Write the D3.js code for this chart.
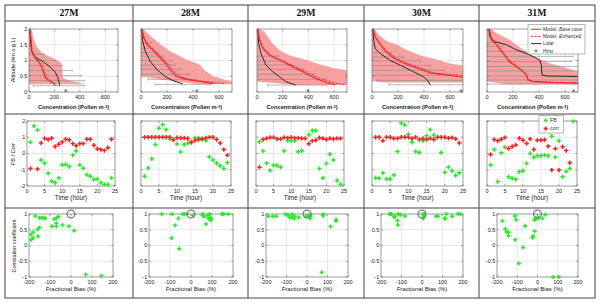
<!DOCTYPE html>
<html><head><meta charset="utf-8">
<script src="https://cdn.jsdelivr.net/npm/d3@7"></script>
<style>body{margin:0;background:#fff}svg{display:block}</style>
</head><body><svg id="c" width="600" height="304"></svg>
<script>
// ---------------- DATA ----------------
const days = ["27M","28M","29M","30M","31M"];
const hours = [1,2,3,4,5,6,7,8,9,10,11,12,13,14,15,16,17,18,19,20,21,22,23,24];

// Fractional bias (FB) per hour, per day
const fb = [
 [0.7,1.7,1.45,-0.4,-0.6,-1.22,-1.7,-1.8,-1.5,-0.7,-0.67,-0.8,-0.1,0.15,-0.7,-0.9,-1.3,-1.4,-1.6,-1.57,-1.8,-1.9,-1.9,-1.5],
 [-1.4,-0.89,-0.32,0.55,1.56,1.78,1.47,0.89,0.85,0.59,0.1,0.55,0.63,0.72,0.95,0.95,0.92,0.8,-0.2,-0.4,-0.6,-0.76,-0.92,-0.56],
 [0.72,0.15,-0.6,-1.05,-0.72,-0.74,-0.85,0.17,0.79,0.79,0.79,0.11,0.17,null,1.15,1.42,1.42,-0.93,-1.5,-0.62,-0.05,-0.4,-1.66,-1.89],
 [-1.49,-1.53,-1.2,-1.57,-1.57,-1.33,0.12,1.87,1.76,1.18,0.69,0.12,0.06,0.78,1.1,1.47,1.14,null,0.06,-1.16,-0.84,-1.06,-1.35,-1.18],
 [-0.71,0.24,-1.73,0.04,0.39,-1.43,-1.53,-1.59,-1.12,-1.06,-0.61,0.0,-0.24,-0.14,-0.14,-0.1,-0.14,1.06,-0.22,0.78,-1.43,-1.1,-0.92,1.98]
];
// Correlation per hour, per day
const corr = [
 [-0.92,null,-0.96,0.65,0.92,0.86,0.94,0.43,0.57,0.71,0.88,0.84,0.61,0.47,0.61,0.61,0.88,0.88,0.51,0.29,0.24,0.18,0.35,0.88],
 [1,1,1,1,1,1,1,1,0.85,0.97,0.95,0.95,0.92,0.68,0.8,0.86,0.88,0.95,1.0,1.0,0.86,0.64,0.24,-0.1],
 [-0.85,0.86,0.93,0.99,0.99,0.89,0.89,0.99,0.95,0.99,0.95,0.95,0.93,0.93,0.6,0.78,0.82,0.97,0.93,0.86,0.93,0.89,0.93,0.93],
 [1.0,1.0,0.79,1.0,1.0,0.93,0.93,1.0,1.0,1.0,0.93,1.0,0.86,0.93,0.86,0.93,0.86,1.0,1.0,1.0,0.94,0.98,0.9,0.65],
 [-0.06,0.86,0.78,0.88,0.98,0.31,0.43,0.53,0.94,0.82,0.62,0.9,0.25,0.82,0.82,0.85,0.45,-1.02,0.3,-1.02,0.42,0.18,-0.57,null]
];

// Model spread band (altitude km, lower and upper concentration)
const bandAlt = [
 [2.0,1.98,1.71,1.44,1.24,1.06,0.95,0.79,0.46,0.38,0.3,0.25],
 [2.0,1.95,1.7,1.3,1.04,0.88,0.66,0.49,0.4,0.3,0.25],
 [2.0,1.92,1.55,1.33,1.17,1.02,0.86,0.75,0.7,0.4,0.33,0.22],
 [2.0,1.82,1.61,1.5,1.38,1.16,1.03,0.9,0.85,0.34,0.3],
 [2.0,1.87,1.66,1.34,1.13,0.91,0.76,0.65,0.33,0.25]
];
const bandLo = [
 [0,0,0,0,0,0,0,0,0,0,0,0],
 [0,0,0,0,0,0,0,0,150,330,467],
 [0,0,0,0,0,0,0,0,0,0,0,300],
 [0,0,0,0,0,0,0,0,0,0,100],
 [0,0,0,0,0,0,0,0,0,150]
];
const bandHi = [
 [10,21,35,61,101,194,247,261,266,300,394,447],
 [15,30,95,220,347,447,497,560,640,760,800],
 [20,56,120,172,249,377,505,608,690,800,800,800],
 [20,51,115,192,244,372,500,603,700,800,800],
 [30,72,174,277,354,482,610,695,800,800]
];
// Profiles: [altitude km, concentration]
const baseCase = [
 [[2.0,5],[1.65,16],[1.33,21],[1.17,35],[0.95,75],[0.79,100],[0.63,115],[0.46,128],[0.36,155],[0.27,195],[0.2,207]],
 [[2.0,8],[1.73,20],[1.52,45],[1.31,95],[1.09,146],[0.88,196],[0.72,221],[0.5,271],[0.4,347],[0.34,447],[0.29,522],[0.26,560]],
 [[2.0,5],[1.66,18],[1.4,44],[1.17,95],[1.02,172],[0.86,249],[0.65,351],[0.43,454],[0.28,556],[0.22,608]],
 [[2.0,8],[1.73,26],[1.5,64],[1.29,103],[1.08,167],[0.92,244],[0.76,346],[0.6,449],[0.55,550],[0.47,700]],
 [[2.0,15],[1.66,33],[1.5,72],[1.23,123],[0.96,174],[0.81,226],[0.65,277],[0.54,303],[0.38,315],[0.33,354],[0.3,500],[0.28,700]]
];
const enhanced = [
 [[2.0,6],[1.65,18],[1.33,24],[1.17,40],[0.95,82],[0.79,108],[0.63,122],[0.46,136],[0.36,165],[0.27,205],[0.2,222]],
 [[2.0,10],[1.73,25],[1.52,52],[1.31,105],[1.09,160],[0.88,212],[0.72,240],[0.5,295],[0.4,380],[0.34,480],[0.29,600],[0.27,640]],
 [[2.0,6],[1.66,22],[1.4,50],[1.17,105],[1.02,185],[0.86,268],[0.65,380],[0.43,490],[0.28,610],[0.22,690]],
 [[2.0,10],[1.73,30],[1.5,72],[1.29,115],[1.08,180],[0.92,260],[0.76,370],[0.6,480],[0.57,580],[0.52,700]],
 [[2.0,18],[1.66,38],[1.5,80],[1.23,130],[0.96,180],[0.81,232],[0.65,282],[0.54,305],[0.4,318],[0.34,350],[0.31,500],[0.29,700]]
];
const lidar = [
 [[2.0,5],[1.55,13],[1.28,21],[1.11,48],[0.95,115],[0.79,168],[0.63,207],[0.46,226],[0.3,237],[0.2,240]],
 [[2.0,5],[1.63,12],[1.3,33],[0.98,70],[0.72,120],[0.5,183],[0.36,246],[0.26,321]],
 [[2.0,5],[1.54,13],[1.22,31],[0.86,69],[0.65,120],[0.49,172],[0.33,223],[0.22,300]],
 [[2.0,5],[1.63,13],[1.37,26],[1.22,64],[1.0,141],[0.85,218],[0.64,321],[0.48,397],[0.35,430],[0.22,450]],
 [[2.0,15],[1.77,20],[1.6,59],[1.5,149],[1.34,226],[1.18,328],[1.02,405],[0.86,418],[0.54,423],[0.51,456],[0.49,700]]
];
// Lidar spread bars
const barAlt = [
 [1.2,1.0,0.84,0.68,0.52,0.36,0.2],
 [1.57,1.39,1.25,1.14,1.0,0.86,0.72,0.56,0.4,0.24],
 [1.14,0.98,0.86,0.72,0.56,0.4,0.22],
 [1.25,1.11,0.99,0.84,0.69,0.53,0.37,0.23],
 [1.57,1.45,1.29,1.13,0.97,0.81,0.67,0.51,0.38,0.25]
];
const barLo = [
 [5,0,0,0,0,0,35],
 [0,0,0,0,0,0,0,0,58,108],
 [0,0,0,0,0,10,82],
 [0,0,0,0,0,0,38,128],
 [0,0,0,0,0,0,0,0,0,0]
];
const barHi = [
 [115,205,260,340,410,434,434],
 [83,95,130,171,234,260,309,372,422,535],
 [167,223,274,364,440,540,544],
 [150,244,372,449,551,650,700,700],
 [97,123,300,661,648,700,700,700,700,700]
];
const hirst = [290,430,397,685,667];

const topXTicks = [0,200,400,600];
const topYTicks = [0,0.5,1,1.5,2];
const midXTicks = [0,5,10,15,20,25];
const midYTicks = [-2,-1,0,1,2];
const botXTicks = [-200,-100,0,100,200];
const botYTicks = [-1,-0.5,0,0.5,1];

// ---------------- LAYOUT ----------------
const svg = d3.select("#c");
const F = "'Liberation Sans',Arial,Helvetica,sans-serif";
const GRID = "#d6d6d6", BOX = "#707070", TXT = "#1a1a1a";
const RED = "#ff1f1f", GREEN = "#22ee22";
const colX = [5,133,248,364,479,595];
const rowYs = [5,21,114,208,298];
const topRect = [[29,118],[141,232],[257,347],[372,463],[487,578]];
const midRect = [[27,115],[141,231],[256,344],[372,463],[487,577]];
const botRect = [[29,113],[149,233],[266,348],[381,463],[497,578]];
const topTB = [29,92], midTB = [121,186], botTB = [214,277];

// table
const tg = svg.append("g");
tg.append("rect").attr("x",5).attr("y",5).attr("width",590).attr("height",293)
  .attr("fill","none").attr("stroke","#444").attr("stroke-width",1);
rowYs.slice(1,4).forEach(y=>tg.append("line").attr("x1",5).attr("x2",595).attr("y1",y).attr("y2",y).attr("stroke","#444").attr("stroke-width",1));
colX.slice(1,5).forEach(x=>tg.append("line").attr("x1",x).attr("x2",x).attr("y1",5).attr("y2",298).attr("stroke","#444").attr("stroke-width",1));
days.forEach((d,i)=>{
  tg.append("text").attr("x",(colX[i]+colX[i+1])/2).attr("y",15.5).attr("text-anchor","middle")
    .attr("font-family","'Liberation Serif','Times New Roman',serif").attr("font-weight","bold")
    .attr("font-size",9.8).attr("fill","#111").text(d);
});

function grid(g,L,R,T,B,xs,ys,xt,yt){
  xt.forEach(v=>{const p=xs(v); if(p>L+0.8&&p<R-0.8) g.append("line").attr("x1",p).attr("x2",p).attr("y1",T).attr("y2",B).attr("stroke",GRID).attr("stroke-width",0.6);});
  yt.forEach(v=>{const p=ys(v); if(p>T+0.8&&p<B-0.8) g.append("line").attr("x1",L).attr("x2",R).attr("y1",p).attr("y2",p).attr("stroke",GRID).attr("stroke-width",0.6);});
}
function box(g,L,R,T,B,xs,ys,xt,yt,showY,xfmt,yfmt){
  g.append("rect").attr("x",L).attr("y",T).attr("width",R-L).attr("height",B-T)
    .attr("fill","none").attr("stroke",BOX).attr("stroke-width",0.7);
  xt.forEach(v=>{const p=xs(v);
    g.append("line").attr("x1",p).attr("x2",p).attr("y1",B).attr("y2",B-1.8).attr("stroke",BOX).attr("stroke-width",0.6);
    g.append("line").attr("x1",p).attr("x2",p).attr("y1",T).attr("y2",T+1.8).attr("stroke",BOX).attr("stroke-width",0.6);
    g.append("text").attr("x",p).attr("y",B+5.2).attr("dy","0.35em").attr("text-anchor","middle")
      .attr("font-family",F).attr("font-size",5.5).attr("fill",TXT).text(xfmt(v));
  });
  yt.forEach(v=>{const p=ys(v);
    g.append("line").attr("x1",L).attr("x2",L+1.8).attr("y1",p).attr("y2",p).attr("stroke",BOX).attr("stroke-width",0.6);
    g.append("line").attr("x1",R).attr("x2",R-1.8).attr("y1",p).attr("y2",p).attr("stroke",BOX).attr("stroke-width",0.6);
    if(showY) g.append("text").attr("x",L-1.6).attr("y",p).attr("dy","0.35em").attr("text-anchor","end")
      .attr("font-family",F).attr("font-size",5.5).attr("fill",TXT).text(yfmt(v));
  });
}
function plus(g,x,y,color,s){
  g.append("path").attr("d",`M${x-s},${y}H${x+s}M${x},${y-s}V${y+s}`)
    .attr("stroke",color).attr("stroke-width",1.5).attr("fill","none");
}
const fmt = v=>String(v);
const defs = svg.append("defs");

days.forEach((d,i)=>{
  // ---------- TOP: profiles ----------
  {
    const [L,R]=topRect[i],[T,B]=topTB;
    const g=svg.append("g");
    const xs=d3.scaleLinear().domain([0,700]).range([L,R]);
    const ys=d3.scaleLinear().domain([0,2]).range([B,T]);
    grid(g,L,R,T,B,xs,ys,topXTicks,topYTicks);
    defs.append("clipPath").attr("id","ct"+i).append("rect").attr("x",L).attr("y",T).attr("width",R-L).attr("height",B-T);
    const c=g.append("g").attr("clip-path",`url(#ct${i})`);
    const band=bandAlt[i].map((a,k)=>({a,lo:bandLo[i][k],hi:bandHi[i][k]}));
    c.append("path").datum(band).attr("d",d3.area().y(p=>ys(p.a)).x0(p=>xs(p.lo)).x1(p=>xs(p.hi)))
      .attr("fill","#f6a0a0").attr("stroke","none");
    barAlt[i].forEach((a,k)=>{
      const y=ys(a),x0=xs(barLo[i][k]),x1=xs(barHi[i][k]);
      c.append("line").attr("x1",x0).attr("x2",x1).attr("y1",y).attr("y2",y).attr("stroke","#888").attr("stroke-width",0.6);
      [x0,x1].forEach(x=>c.append("line").attr("x1",x).attr("x2",x).attr("y1",y-1.2).attr("y2",y+1.2).attr("stroke","#888").attr("stroke-width",0.6));
    });
    const ln=d3.line().x(p=>xs(p[1])).y(p=>ys(p[0]));
    c.append("path").datum(lidar[i]).attr("d",ln).attr("fill","none").attr("stroke","#222").attr("stroke-width",0.95);
    c.append("path").datum(enhanced[i]).attr("d",ln).attr("fill","none").attr("stroke",RED).attr("stroke-width",0.95).attr("stroke-dasharray","2.2,1.4");
    c.append("path").datum(baseCase[i]).attr("d",ln).attr("fill","none").attr("stroke",RED).attr("stroke-width",1.05);
    box(g,L,R,T,B,xs,ys,topXTicks,topYTicks,i===0,fmt,fmt);
    g.append("path").attr("transform",`translate(${xs(hirst[i])},${ys(0.04)})`)
      .attr("d",d3.symbol(d3.symbolAsterisk,9)()).attr("stroke","#555").attr("stroke-width",0.6).attr("fill","none");
    const t=g.append("text").attr("x",(L+R)/2).attr("y",107.5).attr("dy","0.35em").attr("text-anchor","middle")
      .attr("font-family",F).attr("font-weight","bold").attr("font-size",5.7).attr("fill",TXT);
    t.append("tspan").text("Concentration (Pollen m");
    t.append("tspan").attr("font-size",3.9).attr("dy","-1.6").text("-3");
    t.append("tspan").attr("dy","1.6").text(")");
  }
  // ---------- MIDDLE: FB / corr time series ----------
  {
    const [L,R]=midRect[i],[T,B]=midTB;
    const g=svg.append("g");
    const xs=d3.scaleLinear().domain([0,25]).range([L,R]);
    const ys=d3.scaleLinear().domain([-2,2]).range([B,T]);
    grid(g,L,R,T,B,xs,ys,midXTicks,midYTicks);
    box(g,L,R,T,B,xs,ys,midXTicks,midYTicks,i===0,fmt,fmt);
    hours.forEach((h,k)=>{ if(fb[i][k]!==null) plus(g,xs(h),ys(fb[i][k]),GREEN,2.2); });
    hours.forEach((h,k)=>{ if(corr[i][k]!==null) plus(g,xs(h),ys(corr[i][k]),RED,2.2); });
    g.append("text").attr("x",(L+R)/2).attr("y",198).attr("dy","0.35em").attr("text-anchor","middle")
      .attr("font-family",F).attr("font-size",6.3).attr("fill",TXT).text("Time (hour)");
  }
  // ---------- BOTTOM: corr vs FB ----------
  {
    const [L,R]=botRect[i],[T,B]=botTB;
    const g=svg.append("g");
    const xs=d3.scaleLinear().domain([-200,200]).range([L,R]);
    const ys=d3.scaleLinear().domain([-1,1]).range([B,T]);
    grid(g,L,R,T,B,xs,ys,botXTicks,botYTicks);
    box(g,L,R,T,B,xs,ys,botXTicks,botYTicks,true,fmt,fmt);
    hours.forEach((h,k)=>{
      if(fb[i][k]!==null && corr[i][k]!==null) plus(g,xs(fb[i][k]*100),ys(Math.max(-1,corr[i][k])),GREEN,2.1);
    });
    g.append("circle").attr("cx",xs(0)).attr("cy",ys(1)).attr("r",3.9)
      .attr("fill","none").attr("stroke","#808080").attr("stroke-width",1.4);
    g.append("text").attr("x",(L+R)/2).attr("y",289).attr("dy","0.35em").attr("text-anchor","middle")
      .attr("font-family",F).attr("font-size",6.0).attr("fill",TXT).text("Fractional Bias (%)");
  }
});

// y-axis titles (first column)
[["Altitude (km a.g.L)",13,60],["FB / Corr",13,154],["Correlation coefficient",14,246]].forEach(([s,x,y])=>{
  svg.append("text").attr("transform",`translate(${x},${y}) rotate(-90)`).attr("text-anchor","middle")
    .attr("dy","0.35em").attr("font-family",F).attr("font-size",5.5).attr("fill",TXT).text(s);
});

// legend top (31M)
{
  const g=svg.append("g");
  g.append("rect").attr("x",528).attr("y",24.5).attr("width",57).attr("height",29.5)
    .attr("fill","#fff").attr("stroke","#888").attr("stroke-width",0.6);
  const ys=[29.2,36.4,43.6,50.8];
  const mk=(k)=>g.append("text").attr("x",543).attr("y",ys[k]).attr("dy","0.35em")
      .attr("font-family",F).attr("font-size",4.9).attr("fill","#333");
  g.append("line").attr("x1",531).attr("x2",541.5).attr("y1",ys[0]).attr("y2",ys[0]).attr("stroke",RED).attr("stroke-width",1);
  let t=mk(0); t.append("tspan").text("Model, "); t.append("tspan").attr("font-style","italic").text("Base case");
  g.append("line").attr("x1",531).attr("x2",541.5).attr("y1",ys[1]).attr("y2",ys[1]).attr("stroke",RED).attr("stroke-width",0.95).attr("stroke-dasharray","2.2,1.4");
  t=mk(1); t.append("tspan").text("Model, "); t.append("tspan").attr("font-style","italic").text("Enhanced");
  g.append("line").attr("x1",531).attr("x2",541.5).attr("y1",ys[2]).attr("y2",ys[2]).attr("stroke","#222").attr("stroke-width",0.95);
  mk(2).text("Lidar");
  g.append("path").attr("transform",`translate(536,${ys[3]})`).attr("d",d3.symbol(d3.symbolAsterisk,9)())
    .attr("stroke","#555").attr("stroke-width",0.6).attr("fill","none");
  mk(3).text("Hirst");
}
// legend middle (31M)
{
  const g=svg.append("g");
  g.append("rect").attr("x",539).attr("y",115.5).attr("width",24.5).attr("height",17.5)
    .attr("fill","#fff").attr("stroke","#888").attr("stroke-width",0.6);
  plus(g,545.7,120.5,GREEN,2.1);
  plus(g,545.7,128.6,RED,2.1);
  g.append("text").attr("x",550).attr("y",120.5).attr("dy","0.35em").attr("font-family",F).attr("font-size",5.3).attr("fill","#333").text("FB");
  g.append("text").attr("x",550).attr("y",128.6).attr("dy","0.35em").attr("font-family",F).attr("font-size",5.3).attr("fill","#333").text("corr");
}
</script>
</body></html>
